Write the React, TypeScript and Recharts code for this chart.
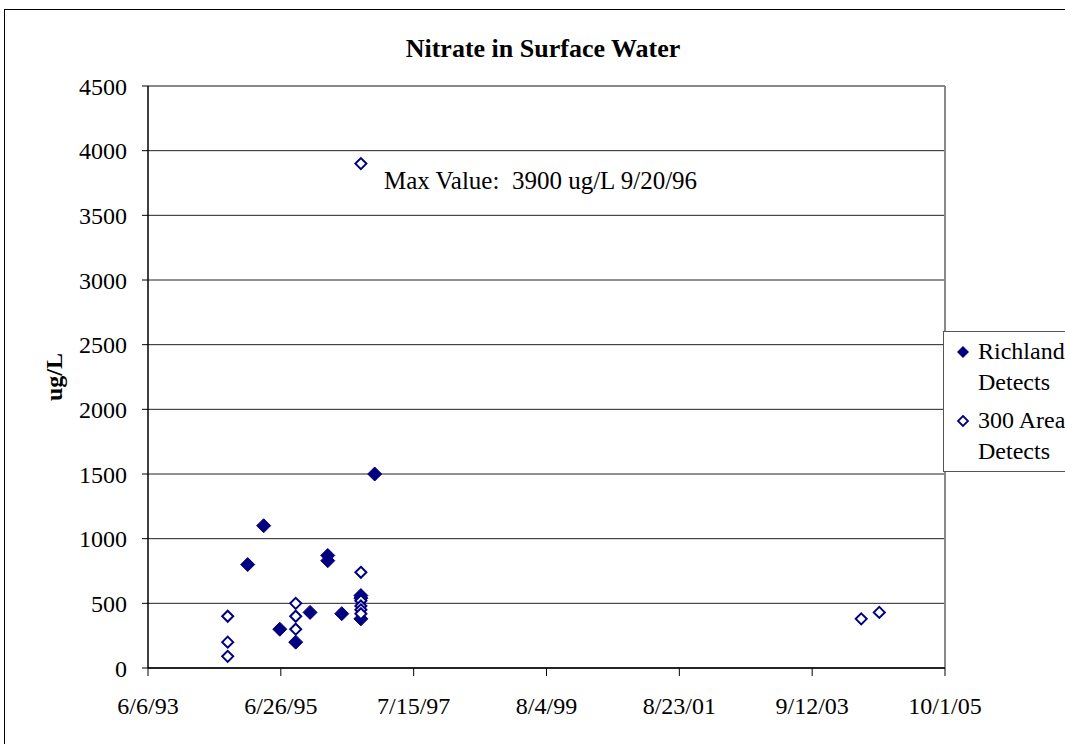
import React from "react";
import {
  ScatterChart,
  Scatter,
  XAxis,
  YAxis,
  CartesianGrid,
  Legend,
  ReferenceDot,
  ReferenceLine,
  Customized,
} from "recharts";

const richlandDates = [
  "1994-12-21", "1995-03-21", "1995-06-20", "1995-09-18", "1995-12-08",
  "1996-03-17", "1996-03-17", "1996-06-04", "1996-09-20", "1996-09-20",
  "1996-09-20", "1996-12-07",
];
const richlandValues = [800, 1100, 300, 200, 430, 870, 830, 420, 560, 540, 380, 1500];

const areaDates = [
  "1994-08-30", "1994-08-30", "1994-08-30",
  "1995-09-18", "1995-09-18", "1995-09-18",
  "1996-09-20", "1996-09-20", "1996-09-20", "1996-09-20", "1996-09-20", "1996-09-20",
  "2004-06-15", "2004-09-25",
];
const areaValues = [400, 200, 90, 500, 400, 300, 3900, 740, 520, 480, 450, 420, 380, 430];

const xTickDates = ["1993-06-06", "1995-06-26", "1997-07-15", "1999-08-04", "2001-08-23", "2003-09-12", "2005-10-01"];
const yTicks = [0, 500, 1000, 1500, 2000, 2500, 3000, 3500, 4000, 4500];

const seriesNames = ["Richland Detects", "300 Area Detects"];
const title = "Nitrate in Surface Water";
const yLabel = "ug/L";
const maxNote = "Max Value:  3900 ug/L 9/20/96";
const maxNoteDate = "1997-01-28";
const maxNoteValue = 3765;

const toMs = (s: string) => {
  const [y, m, d] = s.split("-").map(Number);
  return Date.UTC(y, m - 1, d);
};
const fmt = (ms: number) => {
  const d = new Date(ms);
  return `${d.getUTCMonth() + 1}/${d.getUTCDate()}/${String(d.getUTCFullYear()).slice(2)}`;
};

const richlandData = richlandDates.map((d, i) => ({ x: toMs(d), y: richlandValues[i] }));
const areaData = areaDates.map((d, i) => ({ x: toMs(d), y: areaValues[i] }));
const xTicks = xTickDates.map(toMs);

const NAVY = "#000080";
const FONT = "'Liberation Serif', 'Times New Roman', serif";

const FilledDiamond = (props: any) => {
  const { cx, cy } = props;
  const r = 7;
  return <polygon points={`${cx},${cy - r} ${cx + r},${cy} ${cx},${cy + r} ${cx - r},${cy}`} fill={NAVY} stroke={NAVY} strokeWidth={1} />;
};
const OpenDiamond = (props: any) => {
  const { cx, cy } = props;
  const r = 5.5;
  return <polygon points={`${cx},${cy - r} ${cx + r},${cy} ${cx},${cy + r} ${cx - r},${cy}`} fill="#fff" stroke={NAVY} strokeWidth={2} />;
};

const LegendBox = () => (
  <div
    style={{
      background: "#fff",
      border: "1px solid #555",
      width: 170,
      height: 141,
      boxSizing: "border-box",
      padding: "4px 0 0 12px",
      fontFamily: FONT,
      fontSize: 24,
      lineHeight: "31px",
      color: "#000",
    }}
  >
    {seriesNames.map((n, i) => {
      const a = n.split(" ").slice(0, -1).join(" ");
      const b = n.split(" ").slice(-1)[0];
      return (
        <div key={n} style={{ position: "relative", paddingLeft: 22, marginBottom: i === 0 ? 7 : 0 }}>
          <svg width={14} height={14} style={{ position: "absolute", left: 0, top: 9 }}>
            {i === 0 ? (
              <polygon points="7,1 13,7 7,13 1,7" fill={NAVY} />
            ) : (
              <polygon points="7,2 12,7 7,12 2,7" fill="#fff" stroke={NAVY} strokeWidth={1.8} />
            )}
          </svg>
          <div style={{ whiteSpace: "nowrap" }}>{a}</div>
          <div style={{ whiteSpace: "nowrap" }}>{b}</div>
        </div>
      );
    })}
  </div>
);

const Title = () => (
  <text x={543} y={57} textAnchor="middle" fontFamily={FONT} fontWeight="bold" fontSize={26} fill="#000">
    {title}
  </text>
);

const NoteLabel = (props: any) => {
  const vb = props.viewBox || {};
  return (
    <text x={vb.x} y={(vb.y || 0) + 8} fontFamily={FONT} fontSize={25} fill="#000" style={{ whiteSpace: "pre" }}>
      {maxNote}
    </text>
  );
};

export default function App() {
  return (
    <div style={{ position: "absolute", left: 0, top: 0, width: 1065, height: 744, overflow: "hidden", background: "#fff" }}>
      <div style={{ position: "absolute", left: 4, top: 9, width: 1200, height: 900, border: "1.5px solid #000" }} />
      <div style={{ position: "absolute", left: 0, top: 0 }}>
        <ScatterChart
          width={1065}
          height={744}
          margin={{ top: 86, right: 120, bottom: 26, left: 88 }}
          style={{ fontFamily: FONT }}
        >
          <CartesianGrid horizontal vertical={false} stroke="#222" strokeWidth={1} />
          <XAxis
            type="number"
            dataKey="x"
            domain={[xTicks[0], xTicks[xTicks.length - 1]]}
            ticks={xTicks}
            tickFormatter={fmt}
            height={50}
            tickSize={8}
            tickMargin={21}
            axisLine={{ stroke: "#000", strokeWidth: 1.5 }}
            tickLine={{ stroke: "#000" }}
            tick={{ fill: "#000", fontSize: 24, fontFamily: FONT }}
            interval={0}
          />
          <YAxis
            type="number"
            dataKey="y"
            domain={[0, 4500]}
            ticks={yTicks}
            width={60}
            tickSize={6}
            tickMargin={15}
            axisLine={{ stroke: "#000", strokeWidth: 1.5 }}
            tickLine={{ stroke: "#000" }}
            tick={{ fill: "#000", fontSize: 24, fontFamily: FONT }}
            interval={0}
            label={{ value: yLabel, angle: -90, position: "left", offset: 35, textAnchor: "middle", fontWeight: "bold", fontSize: 24, fill: "#000", fontFamily: FONT }}
          />
          <ReferenceLine x={xTicks[xTicks.length - 1]} stroke="#888" strokeWidth={2} />
          <ReferenceLine y={4500} stroke="#888" strokeWidth={2} />
          <Scatter name={seriesNames[0]} data={richlandData} shape={<FilledDiamond />} isAnimationActive={false} />
          <Scatter name={seriesNames[1]} data={areaData} shape={<OpenDiamond />} isAnimationActive={false} />
          <ReferenceDot x={toMs(maxNoteDate)} y={maxNoteValue} r={0} fill="none" stroke="none" label={<NoteLabel />} />
          <Legend
            layout="vertical"
            align="center"
            verticalAlign="middle"
            content={<LegendBox />}
            wrapperStyle={{ position: "absolute", left: 943, top: 331, width: 170, height: 141 }}
          />
          <Customized component={Title} />
        </ScatterChart>
      </div>
    </div>
  );
}
